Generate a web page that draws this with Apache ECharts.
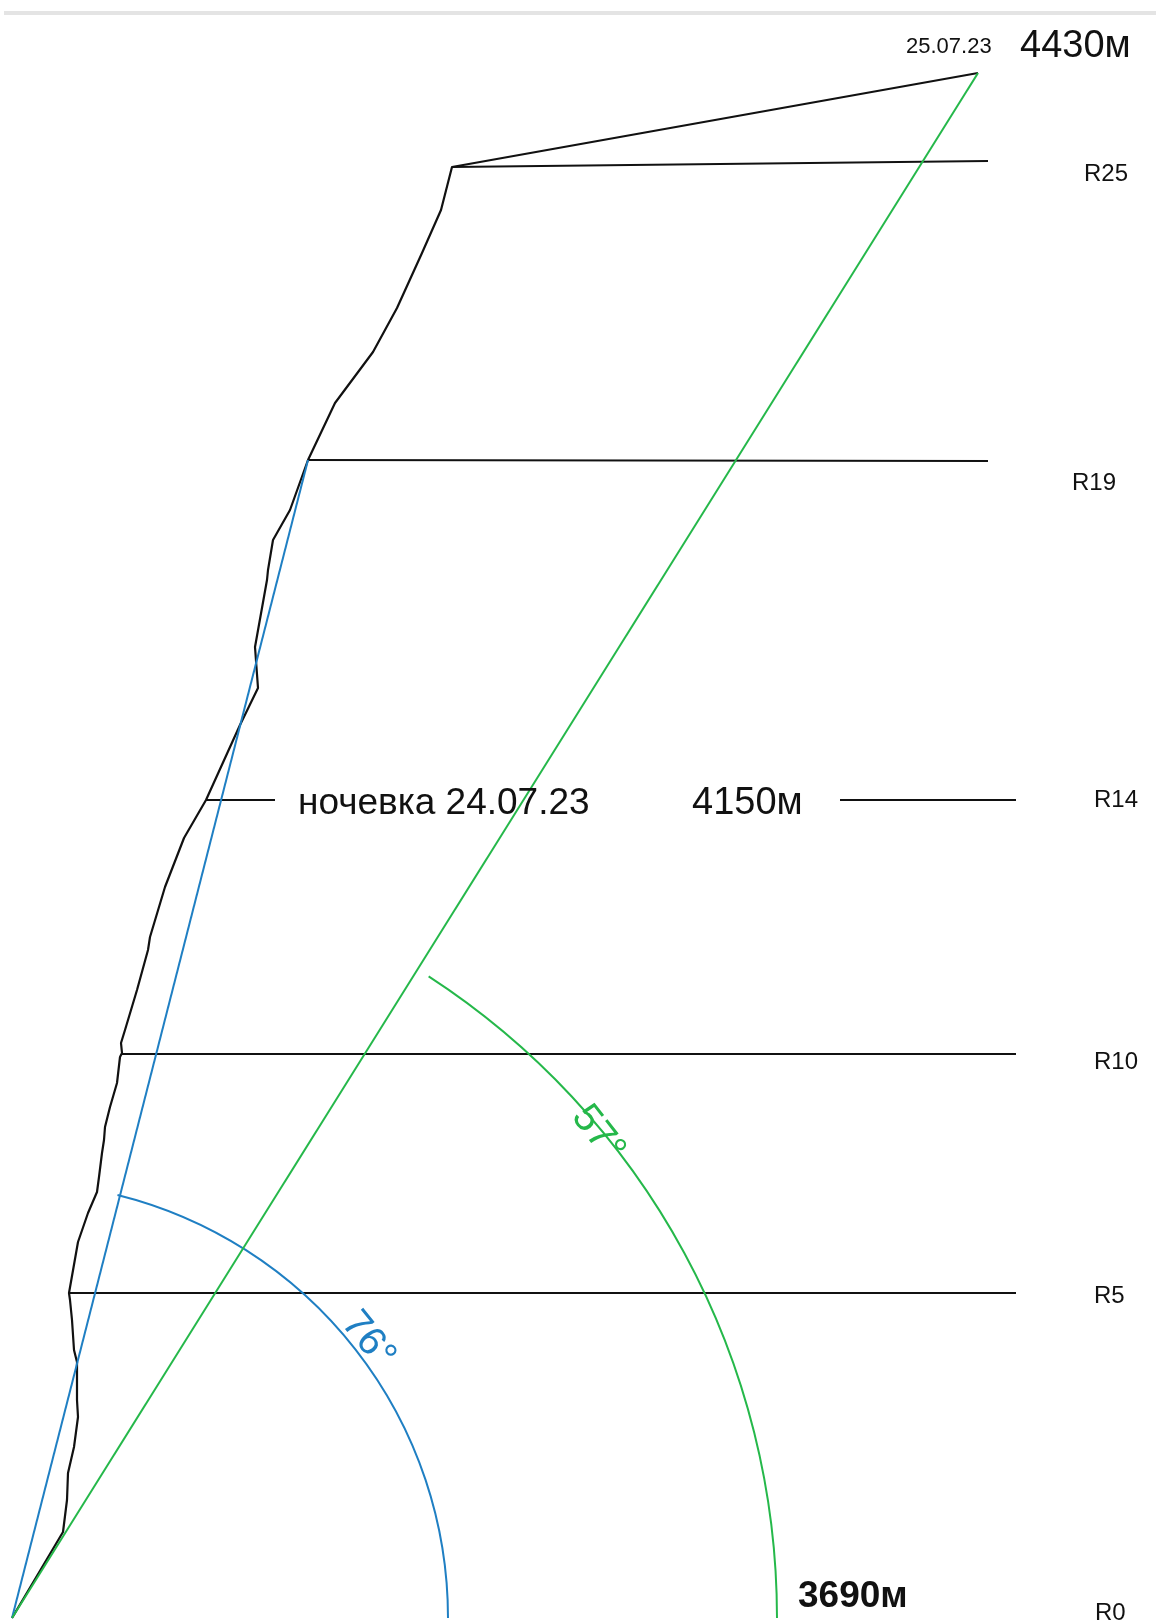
<!DOCTYPE html>
<html>
<head>
<meta charset="utf-8">
<script src="https://cdn.jsdelivr.net/npm/echarts@6/dist/echarts.min.js"></script>
<style>
html,body{margin:0;padding:0;background:#fff;}
#chart{width:1156px;height:1620px;}
</style>
</head>
<body>
<div id="chart"></div>
<script>
// Route profile (topo) in picture units: x right, y down
const routePoints = [[12,1618],[63,1532],[67,1500],[68,1473],[74,1447],[78,1417],[77,1400],[77,1362],[74,1350],[72,1320],[70,1300],[69,1293],[78,1242],[88,1213],[97,1192],[99,1177],[102,1153],[104,1140],[105,1127],[110,1107],[117,1083],[120,1057],[122,1053],[121,1043],[125,1030],[137,990],[148,950],[150,937],[165,887],[184,838],[206,800],[240,725],[258,688],[255,647],[267,580],[268,570],[273,540],[290,510],[308,460],[335,403],[373,352],[397,308],[422,253],[441,210],[452,167],[978,73]];
// Belay stations (R marks)
const stationLines = [
  [[452,167],[988,161]],
  [[308,460],[988,461]],
  [[206,800],[275,800]],
  [[840,800],[1016,800]],
  [[122,1054],[1016,1054]],
  [[69,1293],[1016,1293]]
];
const stationNames = ['R25','R19','R14','R10','R5','R0'];
const stationLabelPos = [[1084,174],[1072,483],[1094,800],[1094,1062],[1094,1296],[1095,1613]];
// Average slope lines
const origin = [12,1618];
const blueEnd = [308,460];
const greenEnd = [978,73];
const blueAngle = 76, greenAngle = 57;
const blueRadius = 436, greenRadius = 765;
// Text annotations
const texts = [
  {t:'25.07.23', p:[906,47]},
  {t:'4430м', p:[1020,47]},
  {t:'ночевка 24.07.23', p:[298,804]},
  {t:'4150м', p:[692,804]},
  {t:'3690м', p:[798,1597]}
];
const angleLabels = [
  {t:'76°', p:[368,1340], rot:-51},
  {t:'57°', p:[598,1134], rot:-52}
];
const topLine = [[4,13],[1156,13]];

const FONT = '"Liberation Sans", Arial, sans-serif';
const textStyles = [
  {size:22, weight:'normal'},
  {size:38, weight:'normal'},
  {size:37, weight:'normal'},
  {size:38, weight:'normal'},
  {size:37, weight:'bold'}
];

const chart = echarts.init(document.getElementById('chart'), null, {renderer:'canvas'});
const series = [];
series.push({type:'line', data:topLine, symbol:'none', silent:true,
  lineStyle:{color:'#e4e4e4', width:4}, z:1});
stationLines.forEach(seg => series.push({type:'line', data:seg, symbol:'none', silent:true,
  lineStyle:{color:'#111', width:2}, z:2}));
series.push({type:'line', data:routePoints, symbol:'none', silent:true,
  lineStyle:{color:'#111', width:2.2, join:'round'}, z:3});
series.push({type:'line', data:[origin, blueEnd], symbol:'none', silent:true,
  lineStyle:{color:'#1f7fc3', width:2}, z:4});
series.push({type:'line', data:[origin, greenEnd], symbol:'none', silent:true,
  lineStyle:{color:'#25b84a', width:2}, z:4});
function arcSeries(radius, deg, color){
  return {type:'custom', silent:true, z:4, data:[[origin[0], origin[1], radius, deg]],
    renderItem:function(params, api){
      const c = api.coord([api.value(0), api.value(1)]);
      const r = api.size([api.value(2), 0])[0];
      return {type:'arc', shape:{cx:c[0], cy:c[1], r:r,
        startAngle:-api.value(3)*Math.PI/180, endAngle:0, clockwise:true},
        style:{stroke:color, lineWidth:2, fill:null}};
    }};
}
series.push(arcSeries(blueRadius, blueAngle, '#1f7fc3'));
series.push(arcSeries(greenRadius, greenAngle, '#25b84a'));
// station labels
series.push({type:'custom', silent:true, z:5,
  data: stationLabelPos.map((p,i)=>[p[0],p[1],i]),
  renderItem:function(params, api){
    const c = api.coord([api.value(0), api.value(1)]);
    return {type:'text', x:c[0], y:c[1], style:{text:stationNames[api.value(2)],
      font:'24px '+FONT, fill:'#111', textAlign:'left', textVerticalAlign:'middle'}};
  }});
series.push({type:'custom', silent:true, z:5,
  data: texts.map((o,i)=>[o.p[0],o.p[1],i]),
  renderItem:function(params, api){
    const i = api.value(2);
    const c = api.coord([api.value(0), api.value(1)]);
    const st = textStyles[i];
    return {type:'text', x:c[0], y:c[1], style:{text:texts[i].t,
      font:st.weight+' '+st.size+'px '+FONT, fill:'#111', textAlign:'left', textVerticalAlign:'middle'}};
  }});
series.push({type:'custom', silent:true, z:5,
  data: angleLabels.map((o,i)=>[o.p[0],o.p[1],i]),
  renderItem:function(params, api){
    const i = api.value(2);
    const c = api.coord([api.value(0), api.value(1)]);
    return {type:'text', x:c[0], y:c[1], rotation:angleLabels[i].rot*Math.PI/180,
      style:{text:angleLabels[i].t, font:'40px '+FONT,
      fill: i===0 ? '#1f7fc3' : '#25b84a', textAlign:'center', textVerticalAlign:'middle'}};
  }});

chart.setOption({
  animation:false,
  backgroundColor:'#fff',
  grid:{left:0, right:0, top:0, bottom:0},
  xAxis:{type:'value', min:0, max:1156, show:false},
  yAxis:{type:'value', min:0, max:1620, inverse:true, show:false},
  series:series
});
</script>
</body>
</html>
